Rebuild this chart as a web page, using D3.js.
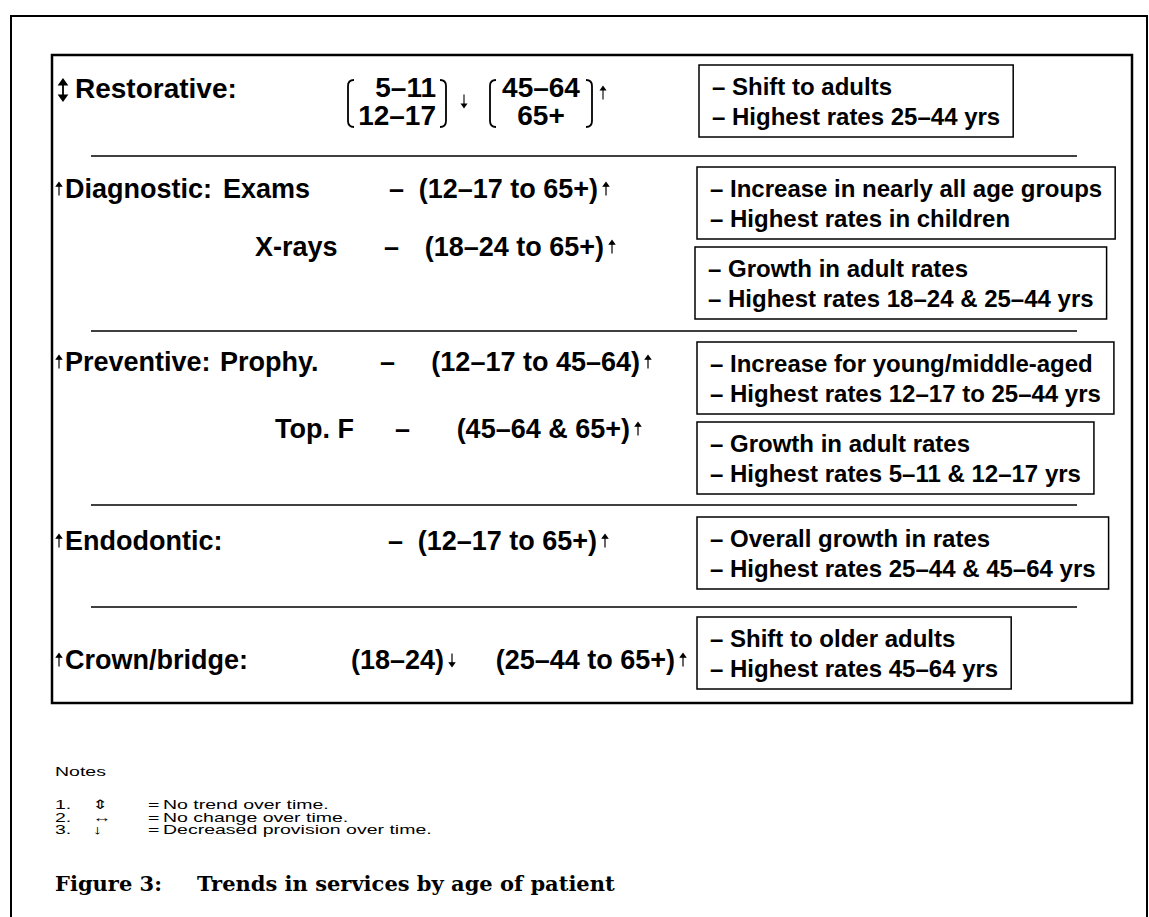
<!DOCTYPE html>
<html>
<head>
<meta charset="utf-8">
<script src="https://cdn.jsdelivr.net/npm/d3@7/dist/d3.min.js"></script>
<style>
  body { margin: 0; background: #fff; }
  text { fill: #000; }
</style>
</head>
<body>
<svg id="chart" width="1149" height="917"></svg>
<script>
// ---- content ----
var categories = ["Restorative:", "Diagnostic:", "Preventive:", "Endodontic:", "Crown/bridge:"];
var categoryTrend = ["updown", "up", "up", "up", "up"];

// one entry per row of the diagram
var rowCategory = [0, 1, -1, 2, -1, 3, 4];
var rowService = ["", "Exams", "X-rays", "Prophy.", "Top. F", "", ""];
var rowDash = [false, true, true, true, true, true, false];
var rowAges = [
  [["5–11", "12–17"], ["45–64", "65+"]],
  [["(12–17 to 65+)"]],
  [["(18–24 to 65+)"]],
  [["(12–17 to 45–64)"]],
  [["(45–64 & 65+)"]],
  [["(12–17 to 65+)"]],
  [["(18–24)"], ["(25–44 to 65+)"]]
];
var rowAgeTrend = [["down", "up"], ["up"], ["up"], ["up"], ["up"], ["up"], ["down", "up"]];
var rowNotes = [
  ["– Shift to adults", "– Highest rates 25–44 yrs"],
  ["– Increase in nearly all age groups", "– Highest rates in children"],
  ["– Growth in adult rates", "– Highest rates 18–24 & 25–44 yrs"],
  ["– Increase for young/middle-aged", "– Highest rates 12–17 to 25–44 yrs"],
  ["– Growth in adult rates", "– Highest rates 5–11 & 12–17 yrs"],
  ["– Overall growth in rates", "– Highest rates 25–44 & 45–64 yrs"],
  ["– Shift to older adults", "– Highest rates 45–64 yrs"]
];

var noteNumbers = ["1.", "2.", "3."];
var noteSymbols = ["⇕", "↔", "↓"];
var noteTexts = ["No trend over time.", "No change over time.", "Decreased provision over time."];
var notesTitle = "Notes";
var figureNumber = "Figure 3:";
var figureTitle = "Trends in services by age of patient";

// ---- layout ----
var svg = d3.select("#chart");
var sans = "'Liberation Sans', Arial, sans-serif";
var labelSize = 27, restSize = 28, boxSize = 24;

var rowTextY = [90, 188, 246, 361, 428, 540, 659];   // vertical centres of left labels
var rowBoxTop = [65, 167, 247, 342, 422, 517, 617];
var rowBoxX = [699, 697, 695, 697, 697, 697, 697];
var serviceX = [0, 223, 255, 220, 275, 0, 0];
var dashX = [0, 389, 384, 380, 395, 388, 0];
var arrowX = [[464, 603], [606], [612], [648], [638], [605], [452, 683]];
var bracketLeft = [348, 490], bracketRight = [446, 592];
var bracketAnchor = ["end", "middle"];
var separatorY = [156, 331, 505, 607];

// frames
svg.append("path")
    .attr("d", "M11,940 L11,16 L1147,16 L1147,940")
    .attr("fill", "none").attr("stroke", "#000").attr("stroke-width", 2);
svg.append("rect")
    .attr("x", 52).attr("y", 55).attr("width", 1080).attr("height", 648)
    .attr("fill", "none").attr("stroke", "#000").attr("stroke-width", 2.5);

svg.append("g").selectAll("line")
  .data(separatorY)
  .enter().append("line")
    .attr("x1", 91).attr("x2", 1077)
    .attr("y1", function(d) { return d; }).attr("y2", function(d) { return d; })
    .attr("stroke", "#000").attr("stroke-width", 1.5);

function arrow(g, dir, x, cy, len, hw, sw) {
  var top = cy - len / 2, bot = cy + len / 2, hh = hw * 1.4;
  var d;
  if (dir == "up") {
    d = "M" + x + "," + bot + "L" + x + "," + (top + hh) +
        "M" + (x - hw) + "," + (top + hh) + "L" + x + "," + top + "L" + (x + hw) + "," + (top + hh) + "Z";
  } else if (dir == "down") {
    d = "M" + x + "," + top + "L" + x + "," + (bot - hh) +
        "M" + (x - hw) + "," + (bot - hh) + "L" + x + "," + bot + "L" + (x + hw) + "," + (bot - hh) + "Z";
  } else {
    d = "M" + x + "," + (top + hh) + "L" + x + "," + (bot - hh) +
        "M" + (x - hw) + "," + (top + hh) + "L" + x + "," + top + "L" + (x + hw) + "," + (top + hh) + "Z" +
        "M" + (x - hw) + "," + (bot - hh) + "L" + x + "," + bot + "L" + (x + hw) + "," + (bot - hh) + "Z";
  }
  g.append("path").attr("d", d).attr("fill", "#000").attr("stroke", "#000")
    .attr("stroke-width", sw);
}

function label(g, str, x, y, size, anchor) {
  return g.append("text")
    .attr("x", x).attr("y", y)
    .attr("text-anchor", anchor || "start")
    .attr("font-family", sans).attr("font-weight", "bold")
    .attr("font-size", size)
    .text(str);
}

var rows = svg.append("g").selectAll("g")
  .data(d3.range(rowService.length))
  .enter().append("g");

rows.each(function(i) {
  var g = d3.select(this);
  var cy = rowTextY[i];
  var base = cy + labelSize * 0.36;

  // category label + overall trend
  var c = rowCategory[i];
  if (c >= 0) {
    if (categoryTrend[c] == "updown") {
      arrow(g, "updown", 63, cy, 21, 3.6, 1.8);
      label(g, categories[c], 75, cy + 8, restSize);
    } else {
      arrow(g, categoryTrend[c], 59, cy + 1, 13, 2.6, 1.2);
      label(g, categories[c], 65, base, labelSize);
    }
  }
  if (rowService[i]) label(g, rowService[i], serviceX[i], base, labelSize);
  if (rowDash[i]) label(g, "–", dashX[i], base, labelSize);

  // age groups with their trend
  rowAges[i].forEach(function(ages, k) {
    var ax = arrowX[i][k];
    var dir = rowAgeTrend[i][k];
    if (ages.length == 2) {
      // stacked ages inside a bracket
      var lx = bracketLeft[k], rx = bracketRight[k];
      var tx = bracketAnchor[k] == "end" ? rx - 10 : (lx + rx) / 2;
      label(g, ages[0], tx, 97, restSize, bracketAnchor[k]);
      label(g, ages[1], tx, 125, restSize, bracketAnchor[k]);
      var top = 80, bot = 127;
      g.append("path")
        .attr("d", "M" + (lx + 6) + "," + top + "Q" + lx + "," + top + " " + lx + "," + (top + 6) +
                   "L" + lx + "," + (bot - 6) + "Q" + lx + "," + bot + " " + (lx + 6) + "," + bot +
                   "M" + (rx - 6) + "," + top + "Q" + rx + "," + top + " " + rx + "," + (top + 6) +
                   "L" + rx + "," + (bot - 6) + "Q" + rx + "," + bot + " " + (rx - 6) + "," + bot)
        .attr("fill", "none").attr("stroke", "#000").attr("stroke-width", 1.8);
      arrow(g, dir, ax, dir == "down" ? 101 : 93, 13, 2.5, 1.1);
    } else {
      label(g, ages[0], ax - 8, base, labelSize, "end");
      arrow(g, dir, ax, cy + 1, 13, 2.6, 1.2);
    }
  });

  // explanatory box
  var bx = rowBoxX[i], by = rowBoxTop[i];
  var texts = g.selectAll("text.note")
    .data(rowNotes[i])
    .enter().append("text").attr("class", "note")
      .attr("x", bx + 13)
      .attr("y", function(d, j) { return by + 30 + j * 30; })
      .attr("font-family", sans).attr("font-weight", "bold").attr("font-size", boxSize)
      .text(function(d) { return d; });
  var maxW = d3.max(texts.nodes(), function(n) { return n.getComputedTextLength(); });
  g.insert("rect", "text.note")
    .attr("x", bx).attr("y", by)
    .attr("width", maxW + 26).attr("height", 72)
    .attr("fill", "#fff").attr("stroke", "#000").attr("stroke-width", 1.5);
});

// notes (the original text is set wide)
var notes = svg.append("g")
  .attr("transform", "translate(55,0) scale(1.5,1)")
  .attr("font-family", sans).attr("font-size", 13);
notes.append("text").attr("x", 0).attr("y", 776).text(notesTitle);
var noteRows = notes.selectAll("g")
  .data(noteTexts)
  .enter().append("g")
    .attr("transform", function(d, i) { return "translate(0," + (809 + i * 12.5) + ")"; });
noteRows.append("text").attr("x", 0).text(function(d, i) { return noteNumbers[i]; });
noteRows.append("text").attr("x", 25).text(function(d, i) { return noteSymbols[i]; });
noteRows.append("text").attr("x", 62).text("=");
noteRows.append("text").attr("x", 72).text(function(d) { return d; });

// caption
var cap = svg.append("g")
  .attr("font-family", "'DejaVu Serif', 'Liberation Serif', serif")
  .attr("font-weight", "bold").attr("font-size", 21);
cap.append("text").attr("x", 55).attr("y", 891).text(figureNumber);
cap.append("text").attr("x", 197).attr("y", 891).text(figureTitle);
</script>
</body>
</html>
